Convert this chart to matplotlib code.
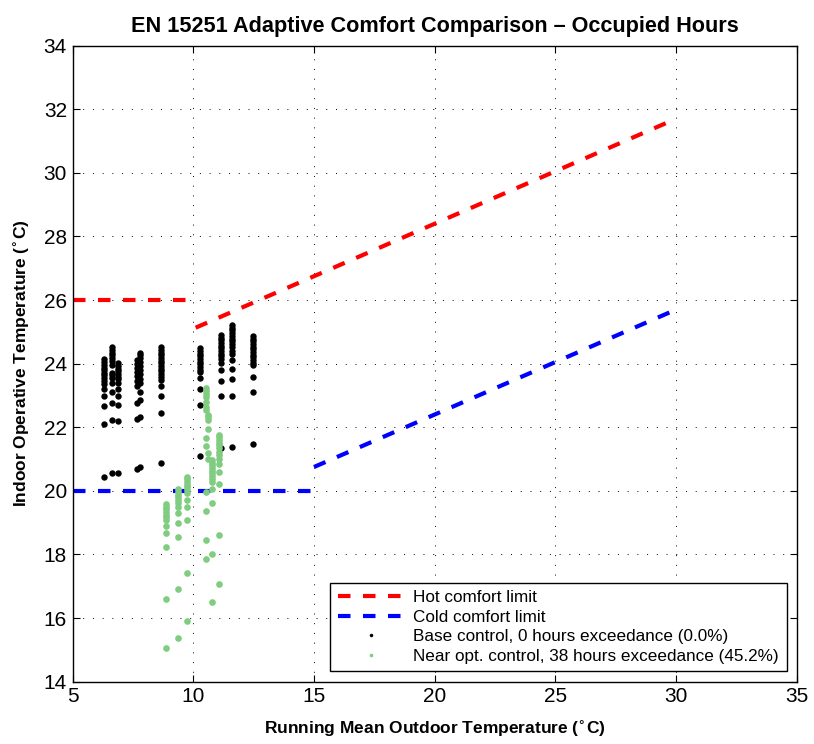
import matplotlib
matplotlib.use('Agg')
import matplotlib.pyplot as plt
import numpy as np

plt.rcParams['font.family'] = ['Liberation Sans', 'DejaVu Sans']
plt.rcParams['mathtext.fontset'] = 'custom'
plt.rcParams['mathtext.rm'] = 'Liberation Sans'

# comfort limit lines (running mean outdoor temp, indoor temp)
hot_flat_x = [5, 10]
hot_flat_y = [26, 26]
hot_slope_x = [10.1, 30]
hot_slope_y = [25.13, 31.70]
cold_flat_x = [5, 15]
cold_flat_y = [20, 20]
cold_slope_x = [15, 30]
cold_slope_y = [20.75, 25.70]

# base control, one column per running mean value
base_x = [6.29, 6.62, 6.88, 7.68, 7.78, 8.66, 10.26, 11.15, 11.60, 12.49]
base_y = [
    [24.14, 24.04, 23.96, 23.87, 23.79, 23.71, 23.63, 23.54, 23.46, 23.37, 23.19, 22.98, 22.67, 22.09, 20.44],
    [24.51, 24.43, 24.34, 24.26, 24.18, 24.09, 23.97, 23.71, 23.63, 23.54, 23.38, 23.12, 22.77, 22.23, 20.55],
    [24.01, 23.92, 23.84, 23.76, 23.67, 23.59, 23.51, 23.38, 23.19, 22.99, 22.71, 22.20, 20.55],
    [24.11, 23.99, 23.86, 23.74, 23.61, 23.45, 23.30, 22.77, 22.27, 20.68],
    [24.34, 24.26, 24.18, 24.05, 23.92, 23.80, 23.67, 23.53, 23.38, 23.12, 22.86, 22.33, 20.76],
    [24.51, 24.43, 24.34, 24.26, 24.18, 24.09, 24.01, 23.92, 23.84, 23.76, 23.67, 23.58, 23.48, 23.30, 22.98, 22.46, 20.87],
    [24.48, 24.40, 24.31, 24.23, 24.14, 24.06, 23.98, 23.89, 23.81, 23.73, 23.55, 23.19, 22.70, 21.10],
    [24.90, 24.81, 24.73, 24.65, 24.56, 24.48, 24.40, 24.31, 24.23, 24.14, 24.03, 23.80, 23.46, 22.98, 21.34],
    [25.21, 25.13, 25.05, 24.95, 24.87, 24.78, 24.70, 24.61, 24.51, 24.41, 24.30, 24.11, 23.83, 23.52, 22.98, 21.39],
    [24.87, 24.78, 24.70, 24.61, 24.53, 24.45, 24.36, 24.28, 24.20, 24.11, 24.03, 23.95, 23.59, 23.12, 21.47],
]

# near optimal control
opt_x = [8.87, 9.38, 9.73, 10.52, 10.62, 10.79, 11.07]
opt_y = [
    [19.59, 19.50, 19.42, 19.33, 19.25, 19.17, 19.08, 18.89, 18.68, 18.23, 16.59, 15.05],
    [20.05, 19.96, 19.88, 19.80, 19.71, 19.63, 19.50, 19.29, 19.00, 18.56, 16.90, 15.38],
    [20.44, 20.36, 20.28, 20.19, 20.11, 20.03, 19.94, 19.71, 19.50, 19.08, 17.43, 15.91],
    [23.22, 23.13, 23.04, 22.94, 22.80, 22.64, 22.54, 21.65, 21.41, 19.97, 19.38, 18.45, 17.85],
    [22.38, 22.31, 22.22, 21.96, 21.18, 20.99],
    [20.97, 20.88, 20.80, 20.72, 20.63, 20.55, 20.47, 20.38, 20.28, 20.05, 19.62, 18.01, 16.50],
    [21.76, 21.68, 21.60, 21.51, 21.43, 21.34, 21.23, 21.13, 21.01, 20.84, 20.60, 20.21, 18.61, 17.08],
]

bx = np.concatenate([[x] * len(y) for x, y in zip(base_x, base_y)])
by = np.concatenate(base_y)
ox = np.concatenate([[x] * len(y) for x, y in zip(opt_x, opt_y)])
oy = np.concatenate(opt_y)

fig = plt.figure(figsize=(8.14, 7.44), dpi=100)
ax = fig.add_axes([0.0891, 0.0837, 0.8899, 0.8551])

dash = (0, (3, 3))
ax.plot(hot_flat_x, hot_flat_y, color='red', lw=3, linestyle=dash, label='Hot comfort limit')
ax.plot(hot_slope_x, hot_slope_y, color='red', lw=3, linestyle=dash)
ax.plot(cold_flat_x, cold_flat_y, color='blue', lw=3, linestyle=dash, label='Cold comfort limit')
ax.plot(cold_slope_x, cold_slope_y, color='blue', lw=3, linestyle=dash)
ax.plot(bx, by, 'o', color='black', ms=4.6, mew=0,
        label='Base control, 0 hours exceedance (0.0%)')
ax.plot(ox, oy, 'o', color='#80cc80', ms=4.8, mew=0,
        label='Near opt. control, 38 hours exceedance (45.2%)')

ax.set_xlim(5, 35)
ax.set_ylim(14, 34)
ax.set_xticks(np.arange(5, 36, 5))
ax.set_yticks(np.arange(14, 35, 2))
ax.tick_params(direction='in', length=5, width=0.8, labelsize=15,
               top=True, right=True, pad=4)
ax.grid(True, color='black', linestyle=(0, (1, 9)), lw=0.7)
for s in ax.spines.values():
    s.set_linewidth(1.0)

ax.set_title('EN 15251 Adaptive Comfort Comparison \u2013 Occupied Hours',
             fontsize=15.6, fontweight='bold', pad=10)
ax.set_xlabel(r'Running Mean Outdoor Temperature ($\mathbf{^{\circ}}$C)',
              fontsize=12.5, fontweight='bold', labelpad=9)
ax.set_ylabel(r'Indoor Operative Temperature ($\mathbf{^{\circ}}$C)',
              fontsize=12.5, fontweight='bold', labelpad=8)

leg = ax.legend(loc='lower right', fontsize=12.3, handlelength=3.8,
                handletextpad=0.6, labelspacing=0.26, markerscale=0.55,
                borderaxespad=0.6, borderpad=0.45, fancybox=False, framealpha=1,
                edgecolor='black', numpoints=1)
leg.get_frame().set_linewidth(1.0)

fig.savefig('out.png', dpi=100)
